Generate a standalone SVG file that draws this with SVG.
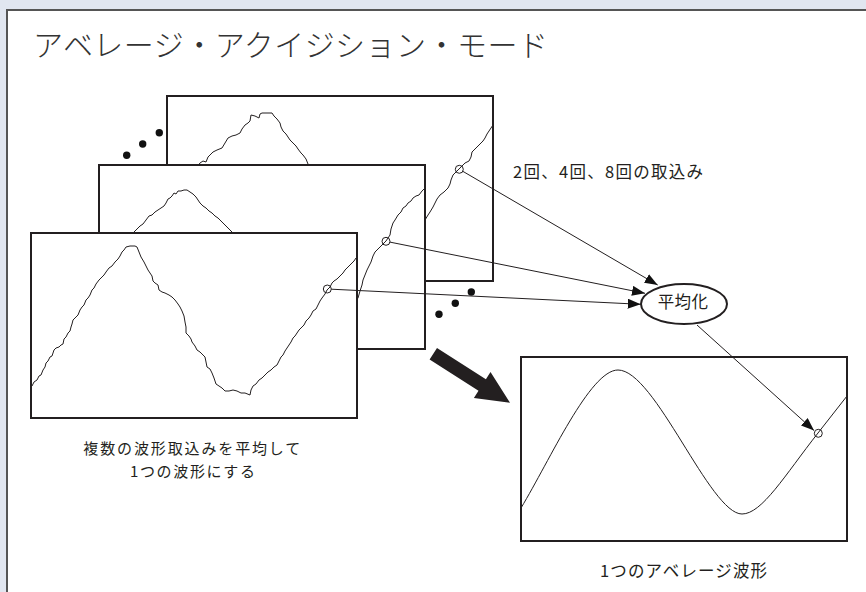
<svg xmlns="http://www.w3.org/2000/svg" width="866" height="592" viewBox="0 0 866 592">
<style>
.txt{font-family:"Noto Sans CJK JP","Noto Sans",sans-serif;fill:#231f20}
.frame{fill:#fff;stroke:#231f20;stroke-width:2}
.wave{fill:none;stroke:#231f20;stroke-width:1;stroke-linejoin:round}
.conn{fill:none;stroke:#231f20;stroke-width:1}
.pt{fill:none;stroke:#231f20;stroke-width:1}
.dot{fill:#111}
</style>
<defs>
<marker id="ah" markerUnits="userSpaceOnUse" markerWidth="13" markerHeight="10" refX="13" refY="5" orient="auto">
<path d="M0,0 L13,5 L0,10 Z" fill="#111"/>
</marker>
</defs>
<rect x="0" y="0" width="866" height="592" fill="#e1e6f0"/>
<rect x="7" y="10" width="900" height="700" fill="#fff" stroke="#555" stroke-width="2"/>
<text class="txt" x="33" y="56" font-size="30" font-weight="300" textLength="515" lengthAdjust="spacing" style="fill:#333">アベレージ・アクイジション・モード</text>

<g id="frame3">
<rect class="frame" x="167" y="96" width="326" height="185"/>
<path class="wave" d="M196,168 L200,163 L203,161 L206,162 L208,157 L211,154 L213,152 L217,150 L222,148 L225,143 L228,138 L232,136 L236,135 L240,133 L242,129 L245,125 L248,123 L250,121 L251,115 L255,116 L259,118 L260,114 L262,113 L267,113 L272,113 L274,116 L277,119 L280,123 L281,127 L283,131 L286,134 L288,137 L290,140 L293,143 L296,146 L298,149 L301,153 L303,155 L306,159 L308,164 L309,168"/>
<path class="wave" d="M415,240 L420,230 L425,220 L428,215 L430,212 L433,207 L435,203 L437,199 L440,195 L444,192 L448,188 L450,184 L451,180 L453,175 L456,172 L459,169 L462,166 L465,163 L469,161 L471,157 L472,152 L475,149 L477,147 L480,144 L483,141 L485,138 L487,134 L489,131 L491,128 L493,125"/>
<circle class="pt" cx="459.3" cy="169.3" r="4"/>
</g>

<g id="frame2">
<rect class="frame" x="99" y="165" width="326" height="184"/>
<path class="wave" d="M133,233 L137,229 L140,226 L143,224 L146,220 L149,216 L152,215 L155,212 L158,210 L161,208 L164,206 L166,203 L168,199 L170,198 L172,196 L174,193 L176,194 L178,191 L181,191 L184,190 L187,190 L190,192 L193,194 L196,197 L198,200 L200,203 L203,206 L206,208 L209,211 L212,213 L215,216 L218,218 L221,221 L224,224 L227,227 L230,230 L233,233"/>
<path class="wave" d="M350,312 L355,302 L358,298 L360,291 L362,285 L363,280 L365,275 L367,270 L369,266 L371,262 L373,256 L375,252 L378,249 L380,247 L383,244 L386,241 L388,238 L390,235 L391,229 L393,223 L395,220 L398,215 L401,212 L403,208 L406,206 L408,203 L411,201 L413,198 L416,196 L419,195 L422,191 L425,188"/>
<circle class="pt" cx="386" cy="241.3" r="4"/>
</g>

<g id="frame1">
<rect class="frame" x="31" y="233" width="326" height="185"/>
<path class="wave" d="M32,386 L34,382 L37,380 L39,376 L41,375 L43,370 L45,367 L46,363 L48,361 L50,357 L52,356 L54,350 L56,348 L59,347 L61,345 L63,344 L64,339 L66,337 L68,333 L70,331 L71,327 L72,324 L73,320 L75,318 L78,315 L80,310 L82,307 L84,305 L86,300 L88,298 L90,295 L92,290 L94,288 L96,284 L99,280 L101,278 L104,275 L106,272 L109,268 L112,266 L115,262 L118,259 L120,256 L122,252 L124,250 L126,247 L130,246 L135,246 L137,247 L139,252 L141,257 L144,262 L146,266 L148,270 L150,273 L152,276 L153,281 L155,283 L158,285 L159,290 L162,292 L165,293 L169,295 L172,297 L175,300 L178,304 L180,307 L182,311 L184,316 L185,322 L186,327 L186,333 L189,336 L191,339 L192,342 L195,346 L197,350 L200,352 L203,355 L205,357 L206,362 L207,367 L210,369 L212,373 L214,378 L216,384 L219,386 L222,388 L225,391 L229,391 L233,390 L237,391 L241,393 L245,393 L250,395 L251,390 L253,386 L256,384 L259,380 L262,378 L265,375 L268,372 L271,370 L274,367 L277,365 L279,361 L281,357 L283,355 L285,351 L287,348 L289,345 L291,342 L293,338 L295,336 L297,333 L299,330 L302,327 L304,325 L306,321 L309,318 L311,315 L313,311 L316,309 L318,305 L320,301 L322,298 L325,294 L327,290 L330,287 L332,283 L334,281 L337,279 L340,276 L343,273 L345,270 L348,267 L351,264 L354,261 L356,258"/>
<circle class="pt" cx="327.3" cy="289" r="4"/>
</g>

<g id="dots">
<circle class="dot" cx="126.7" cy="155.3" r="3.7"/>
<circle class="dot" cx="142.7" cy="144" r="3.7"/>
<circle class="dot" cx="159.3" cy="132.7" r="3.7"/>
<circle class="dot" cx="439" cy="314.3" r="3.7"/>
<circle class="dot" cx="455.3" cy="303.3" r="3.7"/>
<circle class="dot" cx="471.3" cy="292" r="3.7"/>
</g>

<g id="bigarrow">
<polygon points="437,348.1 485.9,379.3 490.5,371.9 510,402.7 473.9,398.1 478.5,390.7 429.6,359.5" fill="#231f20"/>
</g>

<g id="result">
<rect class="frame" x="521" y="357" width="326" height="184"/>
<path class="wave" d="M521,508 C550,460 590,370 618,370 C655,370 710,514 742,514 C762,514 785,475 818,433 L847,396"/>
<circle class="pt" cx="818.3" cy="433.3" r="4"/>
</g>

<g id="average">
<ellipse cx="684" cy="304" rx="43" ry="20" fill="#fff" stroke="#231f20" stroke-width="2"/>
<text class="txt" x="657.7" y="307.5" font-size="16.5" textLength="50.3" lengthAdjust="spacing">平均化</text>
</g>

<g id="connectors">
<line class="conn" x1="462.8" y1="171.3" x2="657.7" y2="285" marker-end="url(#ah)"/>
<line class="conn" x1="389.9" y1="242.1" x2="645" y2="293.3" marker-end="url(#ah)"/>
<line class="conn" x1="331.3" y1="289.2" x2="640.7" y2="304.3" marker-end="url(#ah)"/>
<line class="conn" x1="697" y1="325" x2="814" y2="430.5" marker-end="url(#ah)"/>
</g>

<g id="labels">
<text class="txt" x="513" y="177.5" font-size="16.5" textLength="190" lengthAdjust="spacing">2回、4回、8回の取込み</text>
<text class="txt" x="83.3" y="454" font-size="15" textLength="217" lengthAdjust="spacing">複数の波形取込みを平均して</text>
<text class="txt" x="130" y="476.5" font-size="15" textLength="125" lengthAdjust="spacing">1つの波形にする</text>
<text class="txt" x="600" y="576.5" font-size="16.5" textLength="167" lengthAdjust="spacing">1つのアベレージ波形</text>
</g>
</svg>
